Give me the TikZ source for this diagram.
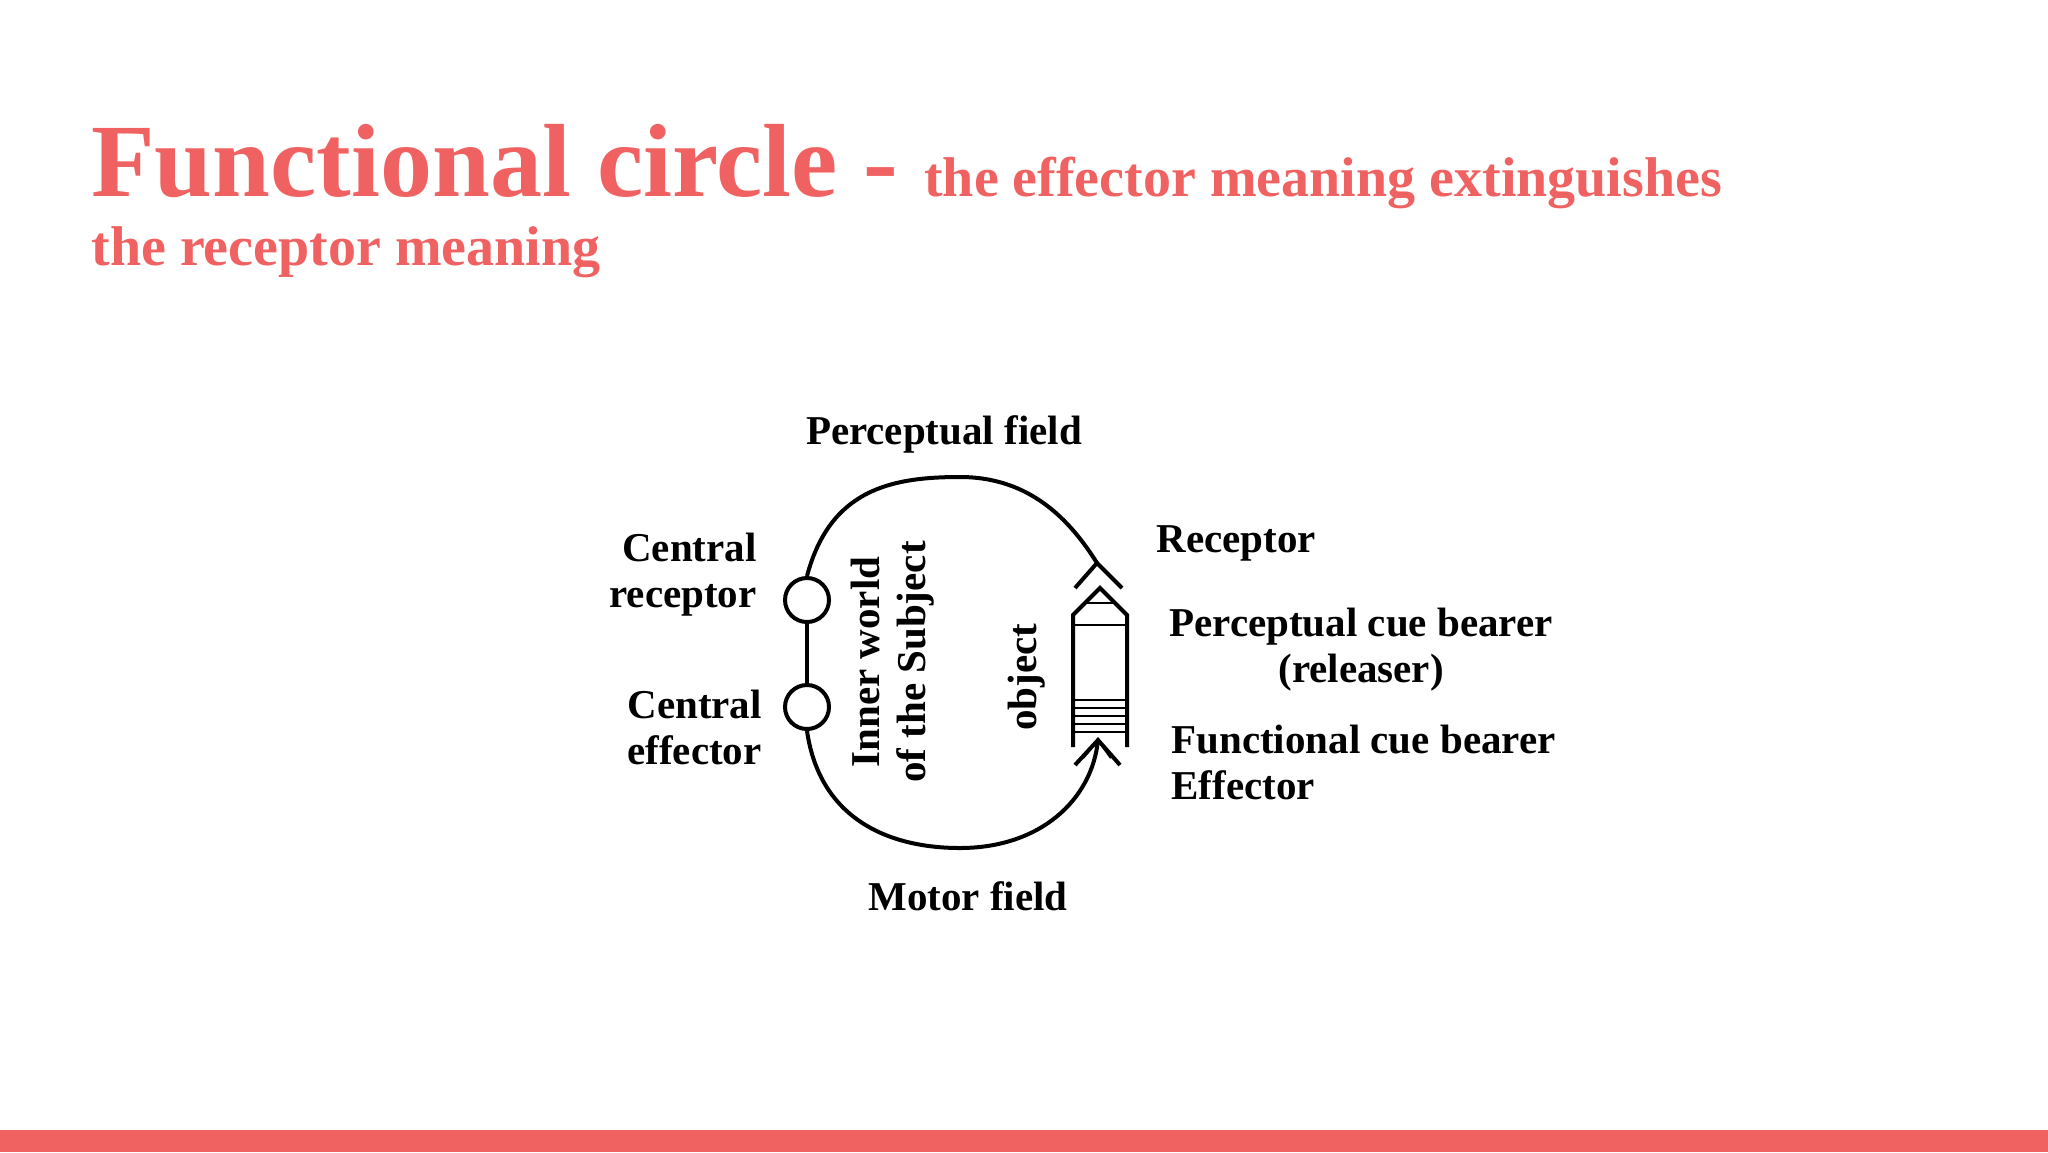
\documentclass[tikz,border=0pt]{standalone}
\usepackage{fontspec}
\setmainfont{Liberation Serif}
\definecolor{salmon}{HTML}{F06262}
\begin{document}
\begin{tikzpicture}[x=0.5pt,y=-0.5pt,
  lbl/.style={font=\fontsize{20.5}{23}\selectfont\bfseries,inner sep=0pt},
  ln/.style={line width=2pt,black},
  ring/.style={circle,draw,line width=2pt,minimum size=22pt,inner sep=0pt}]
\useasboundingbox (0,0) rectangle (2048,1152);
\fill[white] (0,0) rectangle (2048,1152);
\fill[salmon] (0,1130) rectangle (2048,1152);
\node[anchor=base west,inner sep=0pt,text=salmon,font=\fontsize{52}{56}\selectfont\bfseries] (t1) at (91,196)
 {Functional circle -\ \fontsize{28}{32}\selectfont the effector meaning extinguishes};
\node[anchor=base west,inner sep=0pt,text=salmon,font=\fontsize{28}{32}\selectfont\bfseries] (t2) at (91,265) {the receptor meaning};
% circles
\node[ring] (cr) at (807,600) {};
\node[ring] (ce) at (807,707) {};
\coordinate (rt) at (1097,563);
\coordinate (et) at (1098,740);
\draw[ln] (cr) -- (ce);
\draw[ln] (cr.north) .. controls (830,490) and (890,477) .. (960,477) .. controls (1030,477) and (1070,520) .. (rt);
\draw[ln] (ce.south) .. controls (820,820) and (890,848) .. (960,848) .. controls (1040,848) and (1092,800) .. (et);
\draw[ln] (1075,588) -- (rt) -- (1122,588);
\draw[ln] (1075,765) -- (et) -- (1120,765);
\draw[line width=1.2pt] (1083,758) -- (et) -- (1111,758);
% object pencil
\draw[ln] (1073,747) -- (1073,615) -- (1100,588) -- (1127,615) -- (1127,747);
\draw[line width=1.3pt] (1073,625) -- (1127,625) (1085,603)--(1115,603);
\draw[line width=1.3pt] (1073,700)--(1127,700) (1073,708)--(1127,708) (1073,716)--(1127,716) (1073,724)--(1127,724)(1073,732)--(1127,732);
\node[lbl,rotate=90,align=center] (iw) at (893,662) {Inner world\\of the Subject};
\node[lbl,rotate=90] (ob) at (1027,677) {object};
\node[lbl] (pf) at (944,434) {Perceptual field};
\node[lbl] (mf) at (968,896) {Motor field};
\node[lbl,align=right,anchor=east] (crl) at (757,575) {Central\\receptor};
\node[lbl,align=left,anchor=west] (cel) at (627,727) {Central\\effector};
\node[lbl,anchor=west] (rl) at (1156,543) {Receptor};
\node[lbl,align=center,anchor=west] (pcb) at (1169,650) {Perceptual cue bearer\\(releaser)};
\node[lbl,align=left,anchor=west] (fcb) at (1171,762) {Functional cue bearer\\Effector};
\end{tikzpicture}
\end{document}
